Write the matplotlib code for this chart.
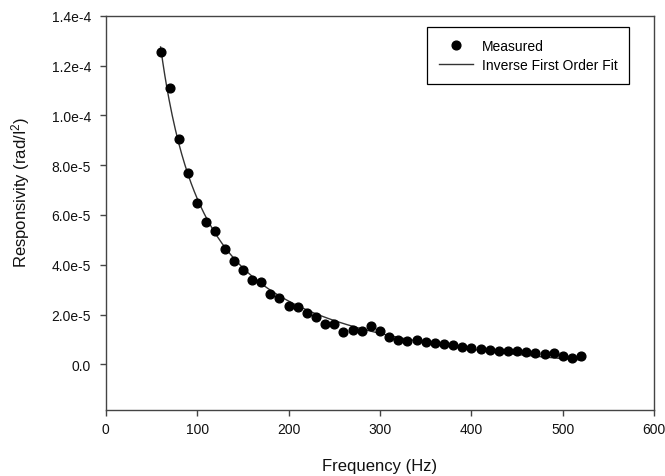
import numpy as np
import matplotlib
matplotlib.use("Agg")
import matplotlib.pyplot as plt

plt.rcParams['font.family'] = ['Liberation Sans', 'DejaVu Sans']
plt.rcParams['mathtext.fontset'] = 'custom'
plt.rcParams['mathtext.rm'] = 'Liberation Sans'
plt.rcParams['mathtext.it'] = 'Liberation Sans:italic'

# ---- data ----
frequency = [60, 70, 80, 90, 100, 110, 120, 130, 140, 150, 160, 170, 180, 190,
             200, 210, 220, 230, 240, 250, 260, 270, 280, 290, 300, 310, 320,
             330, 340, 350, 360, 370, 380, 390, 400, 410, 420, 430, 440, 450,
             460, 470, 480, 490, 500, 510, 520]
responsivity_e5 = [12.53, 11.11, 9.05, 7.70, 6.47, 5.70, 5.37, 4.62, 4.15, 3.80,
                   3.40, 3.29, 2.81, 2.67, 2.35, 2.30, 2.05, 1.90, 1.63, 1.61,
                   1.29, 1.38, 1.34, 1.54, 1.34, 1.11, 0.98, 0.95, 0.99, 0.88,
                   0.87, 0.80, 0.76, 0.71, 0.67, 0.61, 0.56, 0.55, 0.53, 0.52,
                   0.51, 0.45, 0.43, 0.47, 0.35, 0.24, 0.32]
x_ticks = [0, 100, 200, 300, 400, 500, 600]
y_ticks = [0.0, 2.0e-5, 4.0e-5, 6.0e-5, 8.0e-5, 1.0e-4, 1.2e-4, 1.4e-4]
y_tick_labels = ['0.0', '2.0e-5', '4.0e-5', '6.0e-5', '8.0e-5', '1.0e-4', '1.2e-4', '1.4e-4']
legend_labels = ['Measured', 'Inverse First Order Fit']

x = np.array(frequency, dtype=float)
y = np.array(responsivity_e5) * 1e-5

# ---- inverse first order fit: y = y0 + a/(x + b), least squares ----
best = None
for b in np.linspace(-8, 300, 3081):
    A = np.column_stack([np.ones_like(x), 1.0 / (x + b)])
    coef, *_ = np.linalg.lstsq(A, y, rcond=None)
    r = np.sum((A @ coef - y) ** 2)
    if best is None or r < best[0]:
        best = (r, b, coef)
_, bb, (y0, aa) = best
xf = np.linspace(x.min(), x.max(), 400)
yf = y0 + aa / (xf + bb)

# ---- figure ----
fig = plt.figure(figsize=(6.65, 4.77), dpi=100)
ax = fig.add_axes([0.159, 0.139, 0.825, 0.826])

spine_col = '#444444'
meas, = ax.plot(x, y, 'o', color='black', markersize=6.3, linestyle='none',
                zorder=3)
fit, = ax.plot(xf, yf, '-', color='#333333', linewidth=1.0, zorder=2)

ax.set_xlim(0, 600)
ax.set_ylim(-1.82e-5, 1.4e-4)
ax.set_xticks(x_ticks)
ax.set_yticks(y_ticks)
ax.set_yticklabels(y_tick_labels)

for s in ax.spines.values():
    s.set_color(spine_col)
    s.set_linewidth(1.0)
ax.tick_params(axis='both', direction='out', length=4.3, width=1.0,
               color=spine_col, labelsize=10, labelcolor='#111111')
ax.tick_params(axis='x', pad=4.8)
ax.tick_params(axis='y', pad=6.3)
ax.tick_params(top=False, right=False)

ax.set_xlabel('Frequency (Hz)', fontsize=12, color='#111111')
ax.xaxis.set_label_coords(0.5, -0.1226)
ax.set_ylabel('Responsivity (rad/I$^2$)', fontsize=12, color='#111111')
ax.yaxis.set_label_coords(-0.134, 0.555)

leg = ax.legend([meas, fit], legend_labels, loc='upper right',
                bbox_to_anchor=(0.954, 0.9706), borderaxespad=0,
                fontsize=10, numpoints=1, handlelength=2.5,
                handletextpad=0.6, labelspacing=0.35, borderpad=0.85,
                fancybox=False, framealpha=1, edgecolor='black')
leg.get_frame().set_linewidth(0.9)

fig.savefig('out.png', dpi=100)
